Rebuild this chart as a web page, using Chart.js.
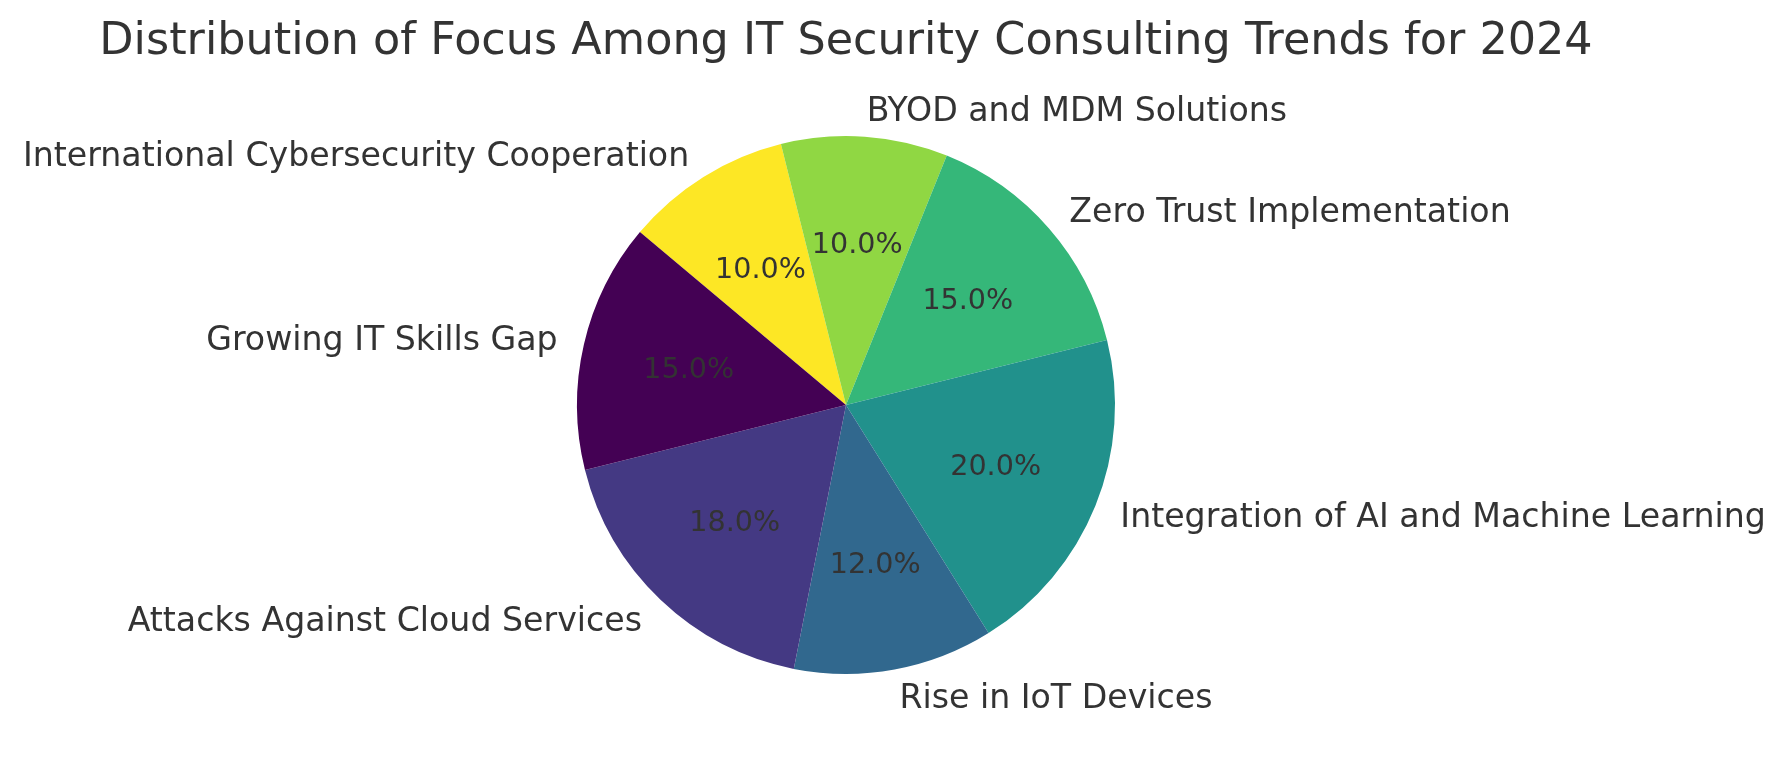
<!DOCTYPE html>
<html>
<head>
<meta charset="utf-8">
<script src="https://cdn.jsdelivr.net/npm/chart.js@4"></script>
<style>
  html, body { margin: 0; padding: 0; background: #ffffff; }
  #wrap { width: 1788px; height: 762px; }
</style>
</head>
<body>
<div id="wrap"><canvas id="trendsChart" width="1788" height="762"></canvas></div>
<script>
// chart data (counter-clockwise order, as in the source figure)
const chartTitle = 'Distribution of Focus Among IT Security Consulting Trends for 2024';
const categories = [
  'Growing IT Skills Gap',
  'Attacks Against Cloud Services',
  'Rise in IoT Devices',
  'Integration of AI and Machine Learning',
  'Zero Trust Implementation',
  'BYOD and MDM Solutions',
  'International Cybersecurity Cooperation'
];
const shares = [15, 18, 12, 20, 15, 10, 10];
const sliceColors = ['#440154', '#443983', '#31688e', '#21918c', '#35b779', '#90d743', '#fde725'];

// Chart.js goes clockwise, so flip the order
const labelsCw = categories.slice().reverse();
const sharesCw = shares.slice().reverse();
const colorsCw = sliceColors.slice().reverse();

const textColor = '#333333';
const fontFamily = '"DejaVu Sans", sans-serif';

// draws title, outer labels and percentages
const pieText = {
  id: 'pieText',
  afterDatasetsDraw(chart) {
    const ctx = chart.ctx;
    const meta = chart.getDatasetMeta(0);
    const total = sharesCw.reduce((a, b) => a + b, 0);
    ctx.save();
    ctx.fillStyle = textColor;

    meta.data.forEach((arc, i) => {
      const p = arc.getProps(['x', 'y', 'startAngle', 'endAngle', 'outerRadius']);
      const mid = (p.startAngle + p.endAngle) / 2;
      const cx = Math.cos(mid), cy = Math.sin(mid);

      // category label at 1.1 radius
      ctx.font = '33.2px ' + fontFamily;
      ctx.textBaseline = 'middle';
      ctx.textAlign = cx > 0 ? 'left' : 'right';
      ctx.fillText(labelsCw[i], p.x + cx * p.outerRadius * 1.1, p.y + cy * p.outerRadius * 1.1 + 3);

      // percentage at 0.6 radius
      ctx.font = '28.6px ' + fontFamily;
      ctx.textAlign = 'center';
      const pct = (sharesCw[i] / total * 100).toFixed(1) + '%';
      ctx.fillText(pct, p.x + cx * p.outerRadius * 0.6, p.y + cy * p.outerRadius * 0.6 + 2);
    });

    ctx.font = '44.5px ' + fontFamily;
    ctx.textAlign = 'center';
    ctx.textBaseline = 'middle';
    ctx.fillText(chartTitle, 846, 42);
    ctx.restore();
  }
};

const ctx = document.getElementById('trendsChart').getContext('2d');
new Chart(ctx, {
  type: 'pie',
  data: {
    labels: labelsCw,
    datasets: [{
      data: sharesCw,
      backgroundColor: colorsCw,
      borderWidth: 0
    }]
  },
  options: {
    responsive: false,
    devicePixelRatio: 1,
    animation: false,
    rotation: -50,
    layout: {
      padding: { top: 136, bottom: 88, left: 577, right: 673 }
    },
    plugins: {
      legend: { display: false },
      title: { display: false },
      tooltip: { enabled: false }
    },
    events: []
  },
  plugins: [pieText]
});
</script>
</body>
</html>
